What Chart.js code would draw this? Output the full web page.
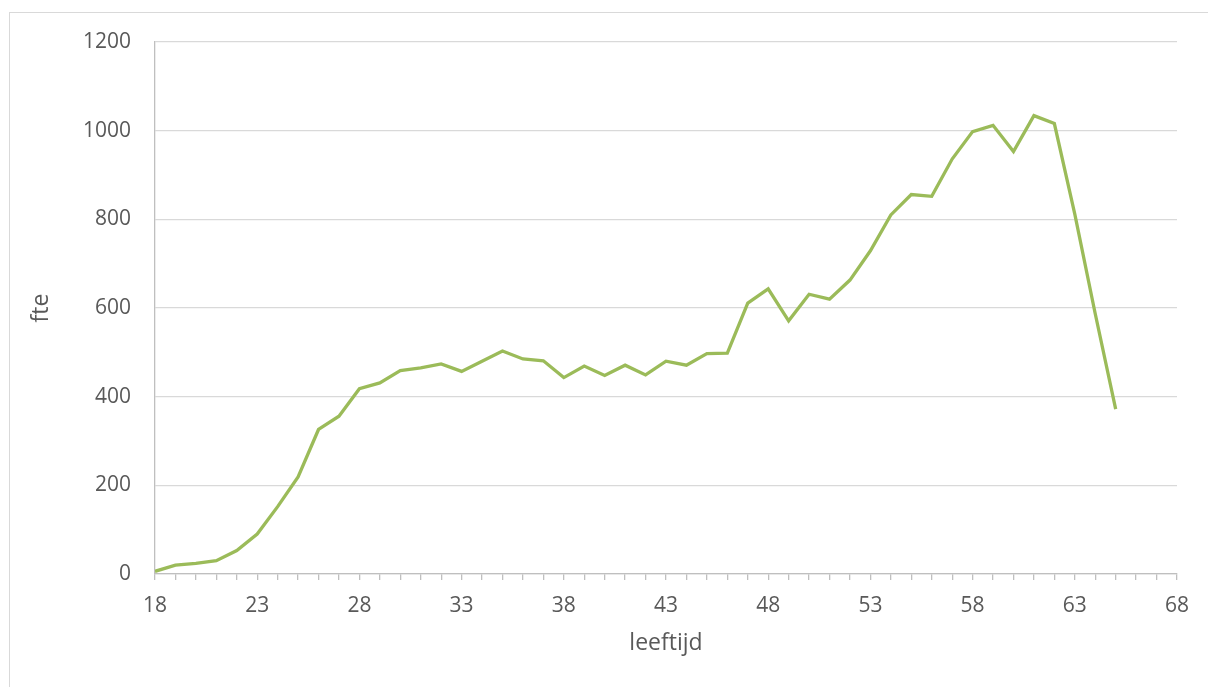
<!DOCTYPE html>
<html>
<head>
<meta charset="utf-8">
<script src="https://cdn.jsdelivr.net/npm/chart.js@4/dist/chart.umd.min.js"></script>
<style>
  html, body { margin: 0; padding: 0; background: #fff; }
  #wrap { position: relative; width: 1208px; height: 687px; overflow: hidden; }
  #frame { position: absolute; left: 9px; top: 12px; width: 1240px; height: 700px;
           border: 1.5px solid #d9d9d9; box-sizing: border-box; }
  canvas { position: absolute; left: 0; top: 0; }
</style>
</head>
<body>
<div id="wrap">
  <div id="frame"></div>
  <canvas id="plots" width="1208" height="687"></canvas>
</div>
<script>
// leeftijd (age) on the x-axis
var ages = [18, 19, 20, 21, 22, 23, 24, 25, 26, 27, 28, 29, 30, 31, 32, 33, 34, 35, 36, 37,
            38, 39, 40, 41, 42, 43, 44, 45, 46, 47, 48, 49, 50, 51, 52, 53, 54, 55, 56, 57,
            58, 59, 60, 61, 62, 63, 64, 65];
// fte per age
var fte = [6, 20, 24, 30, 53, 90, 152, 219, 326, 356, 418, 431, 459, 465, 474, 457, 480, 503, 485, 481,
           443, 469, 448, 471, 449, 480, 471, 497, 498, 611, 643, 571, 631, 620, 663, 729, 810, 856, 852, 936,
           998, 1012, 953, 1034, 1016, 812, 587, 372];
var xMin = 18, xMax = 68;
var yTicks = [0, 200, 400, 600, 800, 1000, 1200];

var points = ages.map(function (a, i) { return { x: a, y: fte[i] }; });

var textColor = '#595959';
var font = 'Open Sans';

new Chart(document.getElementById('plots'), {
    type: 'line',
    data: {
        datasets: [{
            data: points,
            borderColor: '#9bbb59',
            borderWidth: 3.3,
            pointRadius: 0,
            tension: 0,
            fill: false,
        }],
    },
    options: {
        responsive: false,
        animation: false,
        layout: {
            padding: { top: 42, right: 31, left: 0, bottom: 0 },
        },
        plugins: {
            legend: { display: false },
            tooltip: { enabled: false },
        },
        scales: {
            x: {
                type: 'linear',
                min: xMin,
                max: xMax,
                afterFit: function (scale) { scale.height = 113; },
                ticks: {
                    stepSize: 1,
                    autoSkip: false,
                    maxRotation: 0,
                    padding: 13,
                    color: textColor,
                    font: { family: font, size: 21 },
                    callback: function (v) { return (v - xMin) % 5 === 0 ? String(v) : ''; },
                },
                grid: {
                    drawOnChartArea: false,
                    drawTicks: true,
                    tickLength: 6,
                    color: '#bfbfbf',
                    lineWidth: 1.3,
                },
                border: { color: '#bfbfbf', width: 1.3 },
                title: {
                    display: true,
                    text: 'leeftijd',
                    color: textColor,
                    font: { family: font, size: 23 },
                    padding: { top: 0, bottom: 30 },
                },
            },
            y: {
                min: 0,
                max: 1200,
                afterFit: function (scale) { scale.width = 155; },
                afterBuildTicks: function (scale) {
                    scale.ticks = yTicks.map(function (v) { return { value: v }; });
                },
                ticks: {
                    padding: 24,
                    color: textColor,
                    font: { family: font, size: 21 },
                    callback: function (v) { return String(v); },
                },
                grid: {
                    drawTicks: false,
                    color: '#d9d9d9',
                    lineWidth: 1.3,
                },
                border: { color: '#bfbfbf', width: 1.3 },
                title: {
                    display: true,
                    text: 'fte',
                    color: textColor,
                    font: { family: font, size: 23 },
                    padding: { top: 28, bottom: 0 },
                },
            },
        },
    },
});
</script>
</body>
</html>
